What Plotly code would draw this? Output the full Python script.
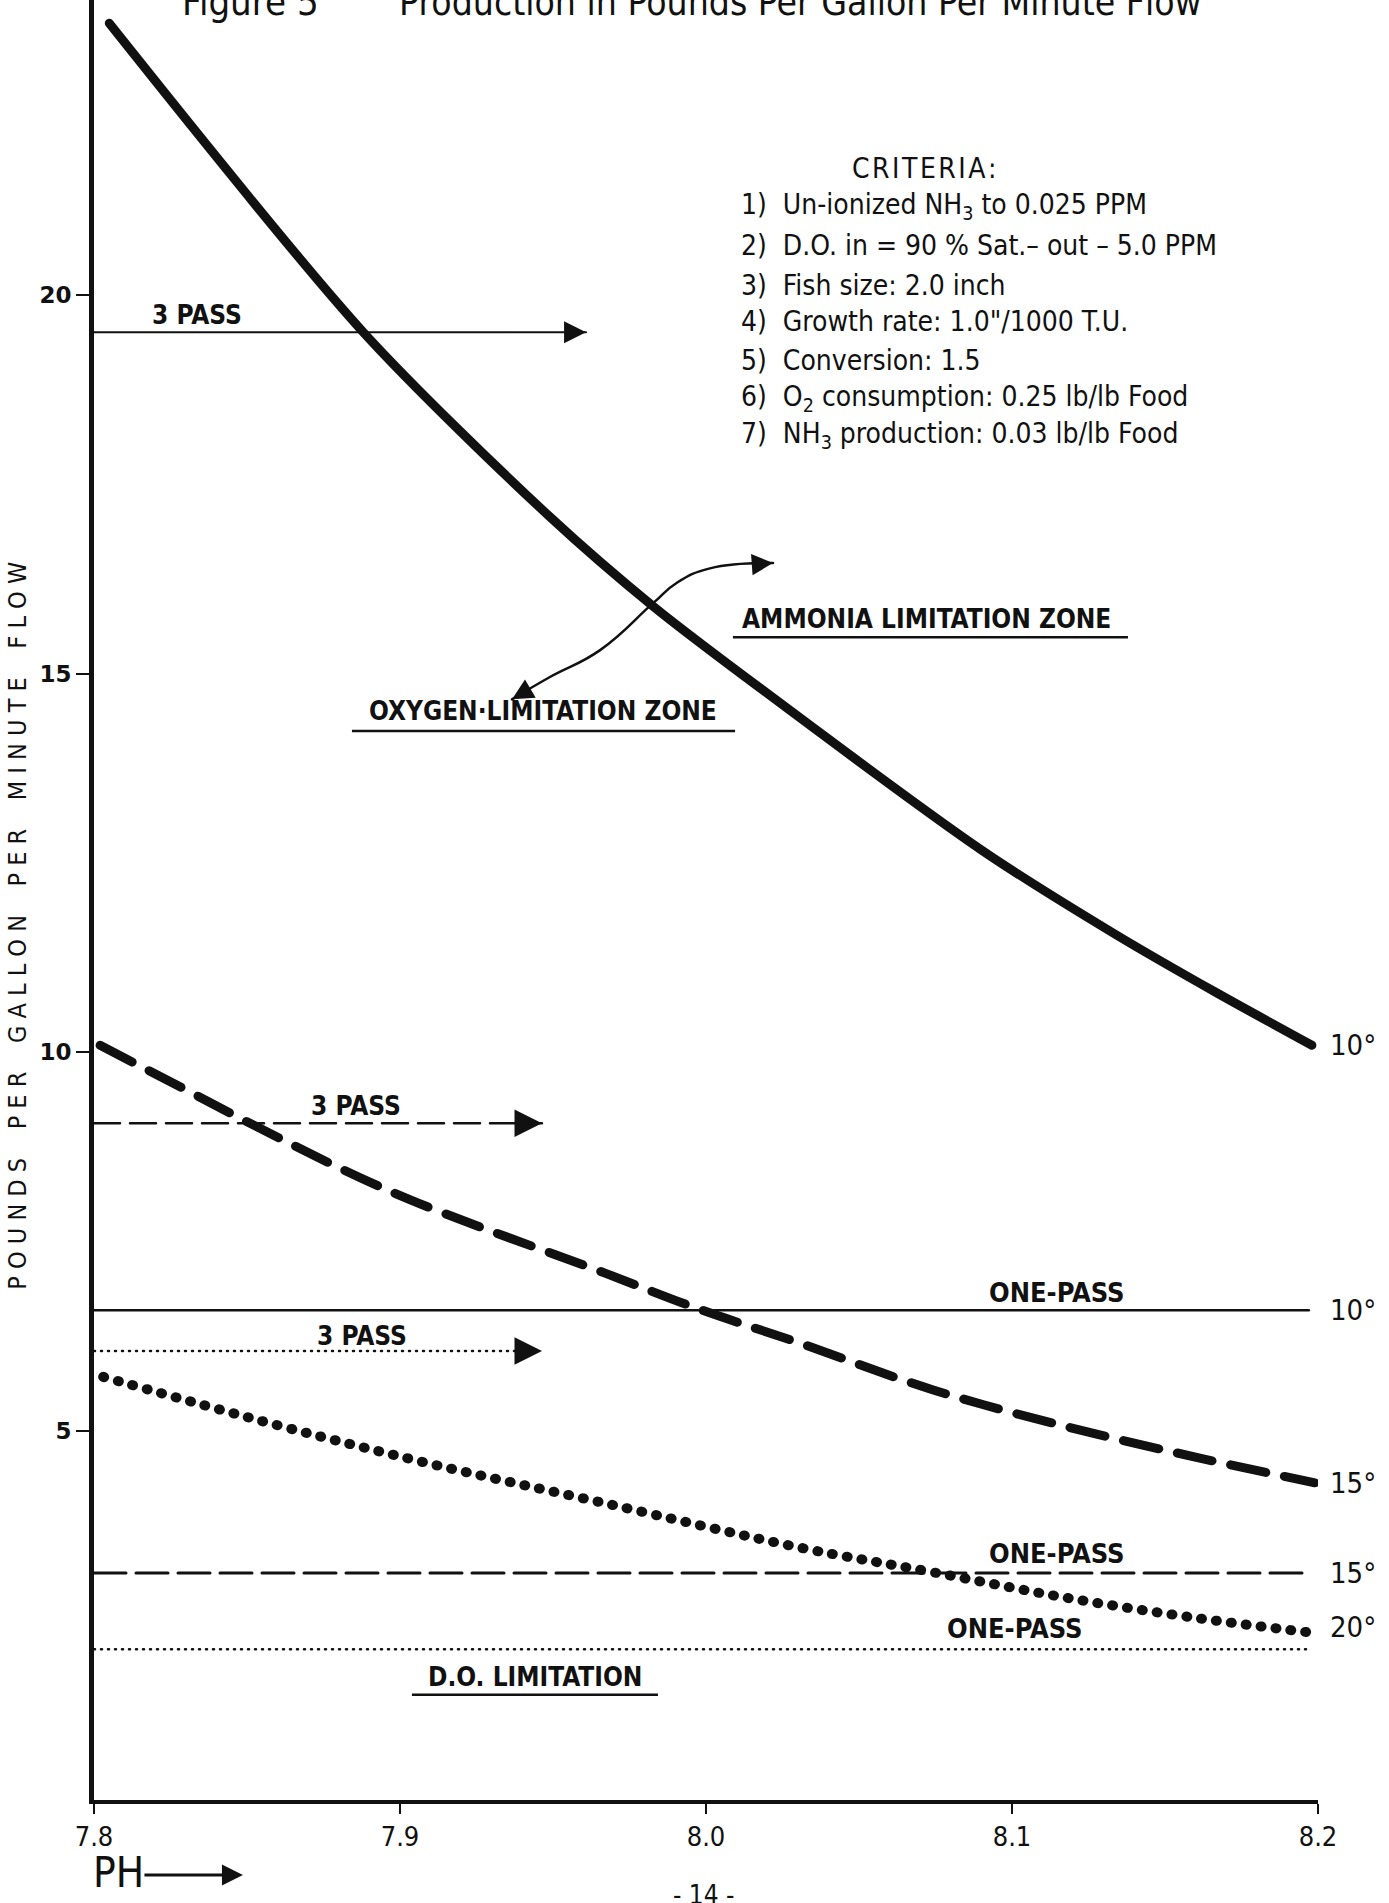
import plotly.graph_objects as go

# ---------------- data ----------------
ph_10 = [7.805, 7.888, 7.949, 7.983, 8.014, 8.090, 8.134, 8.167, 8.198]
flow_10 = [23.59, 19.51, 17.07, 15.88, 14.92, 12.67, 11.55, 10.78, 10.09]

ph_15 = [7.802, 7.832, 7.850, 7.898, 7.967, 7.996, 8.031, 8.074, 8.118, 8.161, 8.199]
flow_15 = [10.09, 9.46, 9.08, 8.14, 7.08, 6.63, 6.15, 5.54, 5.05, 4.64, 4.31]

ph_20 = [7.803, 7.860, 7.909, 7.967, 8.030, 8.074, 8.118, 8.161, 8.198]
flow_20 = [5.71, 5.07, 4.57, 4.04, 3.46, 3.13, 2.79, 2.52, 2.33]

one_pass_ph = [7.80, 8.197]
one_pass_10 = [6.59, 6.59]
one_pass_15 = [3.12, 3.12]
one_pass_20 = [2.11, 2.11]

three_pass_10_ph = [7.80, 7.9608]
three_pass_10 = [19.51, 19.51]
three_pass_15_ph = [7.80, 7.9464]
three_pass_15 = [9.06, 9.06]
three_pass_20_ph = [7.80, 7.9464]
three_pass_20 = [6.05, 6.05]

zone_arrow_ph = [7.9366, 7.9490, 7.9654, 7.9827, 7.9905, 8.0013, 8.0219]
zone_arrow_flow = [14.66, 14.955, 15.31, 15.93, 16.20, 16.39, 16.46]

x_ticks = [7.8, 7.9, 8.0, 8.1, 8.2]
x_tick_text = ["7.8", "7.9", "8.0", "8.1", "8.2"]
y_ticks = [5, 10, 15, 20]
y_tick_text = ["5", "10", "15", "20"]

criteria_lines = [
    "1)  Un-ionized NH<sub>3</sub> to 0.025 PPM",
    "2)  D.O. in = 90 % Sat.– out – 5.0 PPM",
    "3)  Fish size: 2.0 inch",
    '4)  Growth rate: 1.0"/1000 T.U.',
    "5)  Conversion: 1.5",
    "6)  O<sub>2</sub> consumption: 0.25 lb/lb Food",
    "7)  NH<sub>3</sub> production: 0.03 lb/lb Food",
]

# ---------------- figure ----------------
FONT = "Liberation Sans Narrow, DejaVu Sans Condensed, Liberation Sans, Arial, sans-serif"
BLACK = "#111111"

fig = go.Figure()

def line(x, y, width, dash="solid", shape="linear", smoothing=1.0):
    fig.add_trace(go.Scatter(x=x, y=y, mode="lines", hoverinfo="skip",
                             line=dict(color=BLACK, width=width, dash=dash, shape=shape,
                                       smoothing=smoothing)))

# main curves
line(ph_10, flow_10, 9, shape="spline", smoothing=0.8)
line(ph_15, flow_15, 9, dash="36px,19px", shape="spline")
line(ph_20, flow_20, 10, dash="1px,14px", shape="spline")

# one-pass levels
line(one_pass_ph, one_pass_10, 2.5)
line(one_pass_ph, one_pass_15, 3, dash="32px,10px")
line(one_pass_ph, one_pass_20, 2.5, dash="1px,6px")

# three-pass arrows
line(three_pass_10_ph, three_pass_10, 2)
line(three_pass_15_ph, three_pass_15, 2.5, dash="26px,10px")
line(three_pass_20_ph, three_pass_20, 2.5, dash="1px,6px")

# curved double arrow between zones
line(zone_arrow_ph, zone_arrow_flow, 2.5, shape="spline", smoothing=1.3)

ann = []

def arrowhead(x, y, ax, ay, width=2.5, size=2.2):
    ann.append(dict(x=x, y=y, xref="x", yref="y", ax=ax, ay=ay, text="",
                    showarrow=True, arrowhead=2, arrowsize=size, arrowwidth=width,
                    arrowcolor=BLACK, standoff=0))

arrowhead(three_pass_10_ph[1], three_pass_10[1], -14, 0, 2)
arrowhead(three_pass_15_ph[1], three_pass_15[1], -14, 0)
arrowhead(three_pass_20_ph[1], three_pass_20[1], -14, 0)
arrowhead(zone_arrow_ph[-1], zone_arrow_flow[-1], -14, 1, 2.5, 1.7)
arrowhead(zone_arrow_ph[0], zone_arrow_flow[0], 12, -7, 2.5, 1.7)

def text(x, y, s, size=26, bold=False, xanchor="center", yanchor="middle", **kw):
    if bold:
        s = "<b>" + s + "</b>"
    d = dict(x=x, y=y, xref="x", yref="y", text=s, showarrow=False,
             font=dict(family=FONT, size=size, color=BLACK),
             xanchor=xanchor, yanchor=yanchor)
    d.update(kw)
    ann.append(d)

# 3 PASS labels
text(7.8337, 19.74, "3 PASS", 26, True)
text(7.8856, 9.29, "3 PASS", 26, True)
text(7.8876, 6.25, "3 PASS", 26, True)

# ONE-PASS labels
text(8.1147, 6.82, "ONE-PASS", 27, True)
text(8.1147, 3.38, "ONE-PASS", 27, True)
text(8.1010, 2.39, "ONE-PASS", 27, True)

# right-hand temperature labels
for yv, lab in [(flow_10[-1], "10°"), (one_pass_10[0], "10°"), (flow_15[-1], "15°"),
                (one_pass_15[0], "15°"), (flow_20[-1] + 0.07, "20°")]:
    text(8.2, yv, lab, 29, False, xanchor="left", xshift=10)

# zone labels
text(8.0719, 15.72, "AMMONIA LIMITATION ZONE", 26, True)
text(7.9467, 14.50, "OXYGEN·LIMITATION ZONE", 26, True)
text(7.9441, 1.74, "D.O. LIMITATION", 26, True)

# criteria
hs = "\u200a"
text(8.0712, 21.675, hs.join("CRITERIA:"), 28)
crit_y = [21.167, 20.66, 20.13, 19.65, 19.14, 18.64, 18.15]
for yv, s in zip(crit_y, criteria_lines):
    text(8.0107, yv, s, 28, xanchor="left")

# title (cut at the top of the page)
ann.append(dict(x=7.8281, y=1, xref="x", yref="paper", text="Figure 5", showarrow=False,
                font=dict(family=FONT, size=38, color=BLACK), xanchor="left", yanchor="middle",
                yshift=-2))
ann.append(dict(x=7.8990, y=1, xref="x", yref="paper",
                text="Production in Pounds Per Gallon Per Minute Flow", showarrow=False,
                font=dict(family=FONT, size=37, color=BLACK), xanchor="left", yanchor="middle",
                yshift=-2))

# y-axis title
ann.append(dict(x=-0.0620, y=11.67, xref="paper", yref="y", textangle=-90,
                text="P O U N D S    P E R    G A L L O N    P E R    M I N U T E    F L O W",
                showarrow=False, font=dict(family=FONT, size=25, color=BLACK),
                xanchor="center", yanchor="middle"))

# PH arrow label
ann.append(dict(x=-0.0025, y=0, xref="paper", yref="paper", yshift=-72, text="PH",
                showarrow=False, font=dict(family=FONT, size=42, color=BLACK),
                xanchor="left", yanchor="middle"))
ann.append(dict(x=0.1217, y=-0.0417, xref="paper", yref="paper", ax=-100, ay=0, text="",
                showarrow=True, arrowhead=2, arrowsize=1.4, arrowwidth=3,
                arrowcolor=BLACK, standoff=0))

# page number
ann.append(dict(x=0.498, y=-0.0525, xref="paper", yref="paper", text="- 14 -",
                showarrow=False, font=dict(family=FONT, size=26, color=BLACK),
                xanchor="center", yanchor="middle"))

shapes = [
    dict(type="line", xref="x", yref="y", x0=8.0088, x1=8.1379, y0=15.48, y1=15.48,
         line=dict(color=BLACK, width=2.5)),
    dict(type="line", xref="x", yref="y", x0=7.8843, x1=8.0095, y0=14.24, y1=14.24,
         line=dict(color=BLACK, width=2.5)),
    dict(type="line", xref="x", yref="y", x0=7.9039, x1=7.9843, y0=1.51, y1=1.51,
         line=dict(color=BLACK, width=2.5)),
]

fig.update_layout(
    width=1389, height=1903,
    margin=dict(l=94, r=71, t=0, b=103),
    paper_bgcolor="white", plot_bgcolor="white",
    showlegend=False,
    annotations=ann, shapes=shapes,
    font=dict(family=FONT, color=BLACK),
    xaxis=dict(range=[7.8, 8.2], tickvals=x_ticks, ticktext=x_tick_text,
               showgrid=False, zeroline=False, showline=True, linewidth=4, linecolor=BLACK,
               ticks="outside", ticklen=10, tickwidth=2, tickcolor=BLACK,
               tickfont=dict(family=FONT, size=27, color=BLACK)),
    yaxis=dict(range=[0.12, 23.898], tickvals=y_ticks, ticktext=y_tick_text,
               showgrid=False, zeroline=False, showline=True, linewidth=5, linecolor=BLACK,
               ticks="outside", ticklen=13, tickwidth=2, tickcolor=BLACK,
               tickfont=dict(family="DejaVu Sans", size=23, color=BLACK, weight="bold")),
)

post = """
document.querySelectorAll('.scatterlayer path.js-line').forEach(function(p){
  p.style.strokeLinecap = 'round';
});
"""
fig.write_html("out.html", post_script=post)
